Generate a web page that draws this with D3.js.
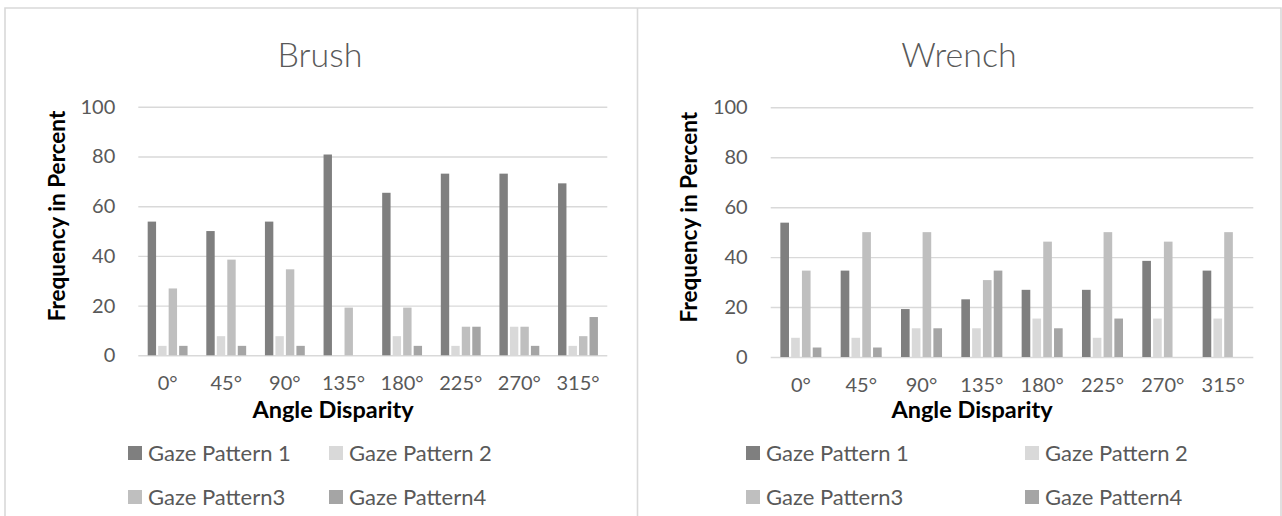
<!DOCTYPE html>
<html>
<head>
<meta charset="utf-8">
<script src="https://cdn.jsdelivr.net/npm/d3@7"></script>
<style>
  html, body { margin: 0; padding: 0; background: #ffffff; }
  svg { display: block; font-family: Lato, "Open Sans", sans-serif; }
</style>
</head>
<body>
<svg id="chart" width="1282" height="516"></svg>
<script>
// Angle disparity categories and percentage values per gaze pattern
const categories = ["0°", "45°", "90°", "135°", "180°", "225°", "270°", "315°"];
const seriesNames = ["Gaze Pattern 1", "Gaze Pattern 2", "Gaze Pattern3", "Gaze Pattern4"];
const yTicks = [0, 20, 40, 60, 80, 100];

const brushPattern1 = [53.8, 50.0, 53.8, 80.8, 65.4, 73.1, 73.1, 69.2];
const brushPattern2 = [3.8, 7.7, 7.7, 0, 7.7, 3.8, 11.5, 3.8];
const brushPattern3 = [26.9, 38.5, 34.6, 19.2, 19.2, 11.5, 11.5, 7.7];
const brushPattern4 = [3.8, 3.8, 3.8, 0, 3.8, 11.5, 3.8, 15.4];

const wrenchPattern1 = [53.8, 34.6, 19.2, 23.1, 26.9, 26.9, 38.5, 34.6];
const wrenchPattern2 = [7.7, 7.7, 11.5, 11.5, 15.4, 7.7, 15.4, 15.4];
const wrenchPattern3 = [34.6, 50.0, 50.0, 30.8, 46.2, 50.0, 46.2, 50.0];
const wrenchPattern4 = [3.8, 3.8, 11.5, 34.6, 11.5, 15.4, 0, 0];

const colors = ["#7f7f7f", "#d9d9d9", "#bfbfbf", "#a5a5a5"];

const svg = d3.select("#chart");
const borderColor = "#d9d9d9";
const textGrey = "#595959";

// Panel frames
svg.append("path")
  .attr("d", "M5,516 V8 H1281 V516 M637.5,8 V516")
  .attr("fill", "none")
  .attr("stroke", borderColor)
  .attr("stroke-width", 1.6);

const panels = [
  {
    title: "Brush",
    series: [brushPattern1, brushPattern2, brushPattern3, brushPattern4],
    left: 138.3, right: 607.3, bottom: 355.3, top: 106.8,
    titleX: 320, yTitleX: 57, xTitleX: 333,
    legendCols: [128, 329]
  },
  {
    title: "Wrench",
    series: [wrenchPattern1, wrenchPattern2, wrenchPattern3, wrenchPattern4],
    left: 770.7, right: 1253.3, bottom: 357, top: 107.3,
    titleX: 959, yTitleX: 689.5, xTitleX: 972,
    legendCols: [746, 1025]
  }
];

panels.forEach(p => {
  const g = svg.append("g");
  const w = p.right - p.left;

  const y = d3.scaleLinear().domain([0, 100]).range([p.bottom, p.top]);
  const x0 = d3.scaleBand().domain(categories).range([p.left, p.right])
    .paddingInner(0.32).paddingOuter(0.16);
  const x1 = d3.scaleBand().domain(d3.range(seriesNames.length))
    .range([0, x0.bandwidth()]).paddingInner(0.2);

  // Gridlines and value labels
  const yAxis = g.append("g")
    .attr("transform", `translate(${p.left},0)`)
    .call(d3.axisLeft(y).tickValues(yTicks).tickSize(-w).tickPadding(23));
  yAxis.select(".domain").remove();
  yAxis.selectAll("line").attr("stroke", borderColor).attr("stroke-width", 1.4);
  yAxis.selectAll("text")
    .attr("fill", textGrey)
    .style("font-size", "20px")
    .style("font-family", "Lato, sans-serif");

  // Bars
  categories.forEach((c, i) => {
    p.series.forEach((vals, s) => {
      g.append("rect")
        .attr("x", x0(c) + x1(s))
        .attr("y", y(vals[i]))
        .attr("width", x1.bandwidth())
        .attr("height", y(0) - y(vals[i]))
        .attr("fill", colors[s]);
    });
  });

  // Category labels
  const xAxis = g.append("g")
    .attr("transform", `translate(0,${p.bottom})`)
    .call(d3.axisBottom(x0).tickSize(0).tickPadding(21));
  xAxis.select(".domain").remove();
  xAxis.selectAll("text")
    .attr("fill", textGrey)
    .style("font-size", "20px")
    .style("font-family", "Lato, sans-serif");

  // Chart title
  g.append("text")
    .attr("x", p.titleX).attr("y", 67)
    .attr("text-anchor", "middle")
    .attr("fill", textGrey)
    .style("font-size", "34px")
    .style("font-weight", 300)
    .text(p.title);

  // Axis titles
  g.append("text")
    .attr("transform", `translate(${p.yTitleX + 7.5},${(p.top + p.bottom) / 2 - 15}) rotate(-90)`)
    .attr("text-anchor", "middle")
    .attr("fill", "#000")
    .style("font-size", "22.5px")
    .style("font-weight", 700)
    .text("Frequency in Percent");

  g.append("text")
    .attr("x", p.xTitleX).attr("y", 418)
    .attr("text-anchor", "middle")
    .attr("fill", "#000")
    .style("font-size", "23.5px")
    .style("font-weight", 700)
    .text("Angle Disparity");

  // Legend, two columns by two rows
  const rows = [453, 497];
  seriesNames.forEach((name, s) => {
    const cx = p.legendCols[s % 2];
    const cy = rows[Math.floor(s / 2)];
    g.append("rect")
      .attr("x", cx).attr("y", cy - 7)
      .attr("width", 14).attr("height", 14)
      .attr("fill", colors[s]);
    g.append("text")
      .attr("x", cx + 20).attr("y", cy + 8)
      .attr("fill", textGrey)
      .style("font-size", "22px")
      .text(name);
  });
});
</script>
</body>
</html>
